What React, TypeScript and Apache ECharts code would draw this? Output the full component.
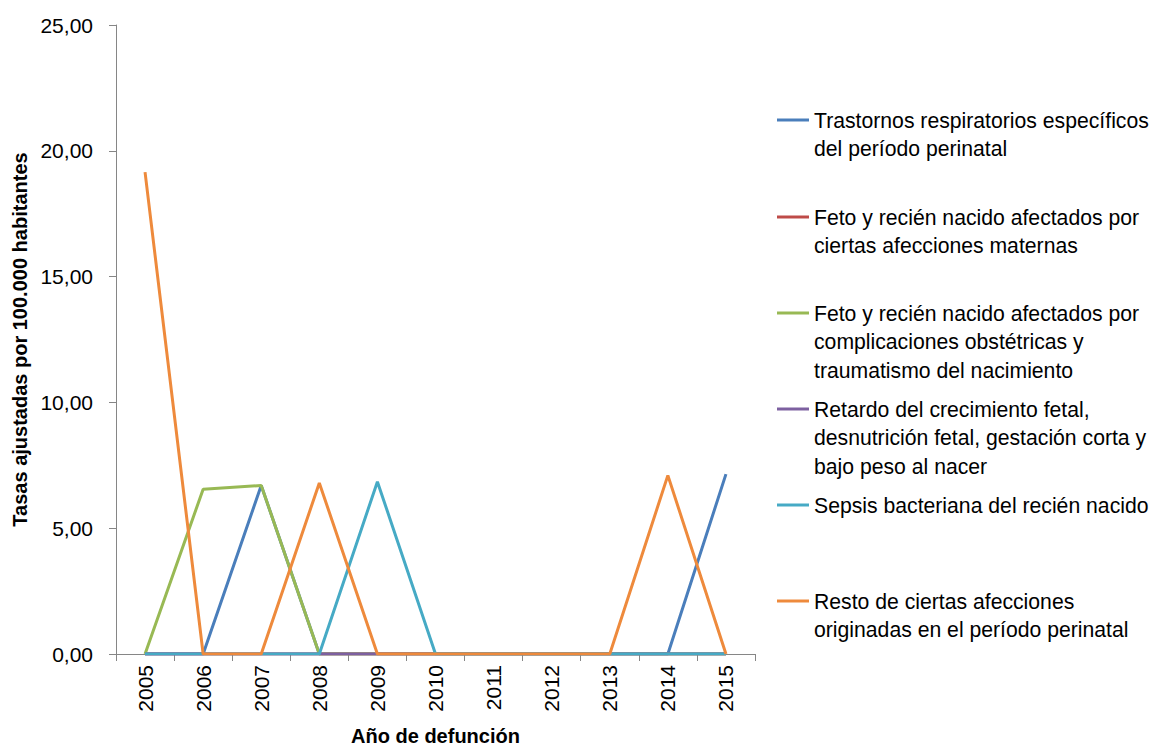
import React, { useEffect, useRef } from "react";
import * as echarts from "echarts";

const years = ["2005", "2006", "2007", "2008", "2009", "2010", "2011", "2012", "2013", "2014", "2015"];

const seriesNames = [
  "Trastornos respiratorios específicos del período perinatal",
  "Feto y recién nacido afectados por ciertas afecciones maternas",
  "Feto y recién nacido afectados por complicaciones obstétricas y traumatismo del nacimiento",
  "Retardo del crecimiento fetal, desnutrición fetal, gestación corta y bajo peso al nacer",
  "Sepsis bacteriana del recién nacido",
  "Resto de ciertas afecciones originadas en el período perinatal",
];

const legendLines = [
  ["Trastornos respiratorios específicos", "del período perinatal"],
  ["Feto y recién nacido afectados por", "ciertas afecciones maternas"],
  ["Feto y recién nacido afectados por", "complicaciones obstétricas y", "traumatismo del nacimiento"],
  ["Retardo del crecimiento fetal,", "desnutrición fetal, gestación corta y", "bajo peso al nacer"],
  ["Sepsis bacteriana del recién nacido"],
  ["Resto de ciertas afecciones", "originadas en el período perinatal"],
];

const trastornos = [0, 0, 6.7, 0, 0, 0, 0, 0, 0, 0, 7.15];
const afeccionesMaternas = [0, 0, 0, 0, 0, 0, 0, 0, 0, 0, 0];
const complicaciones = [0, 6.55, 6.7, 0, 0, 0, 0, 0, 0, 0, 0];
const retardo = [0, 0, 0, 0, 0, 0, 0, 0, 0, 0, 0];
const sepsis = [0, 0, 0, 0, 6.85, 0, 0, 0, 0, 0, 0];
const resto = [19.15, 0, 0, 6.8, 0, 0, 0, 0, 0, 7.1, 0];

const seriesData = [trastornos, afeccionesMaternas, complicaciones, retardo, sepsis, resto];
const colors = ["#4A7EBB", "#BE4B48", "#98B954", "#7D60A0", "#46AAC5", "#EE8A3C"];

const legendMarkerY = [120, 217, 313, 409, 505, 601];

const FONT = "'Liberation Sans', Arial, sans-serif";
const LH = 28.5;

export default function App() {
  const ref = useRef<HTMLDivElement>(null);
  useEffect(() => {
    if (!ref.current) return;
    const chart = echarts.init(ref.current, null, { renderer: "svg" });
    const legends = seriesNames.map((name, i) => {
      const n = legendLines[i].length;
      const blockH = (2 * n - 1) * LH;
      return {
        data: [name],
        left: 777,
        top: legendMarkerY[i] - blockH / 2,
        orient: "vertical",
        selectedMode: false,
        icon: "rect",
        itemWidth: 32,
        itemHeight: 3,
        itemGap: 0,
        padding: 0,
        formatter: () => "\n".repeat(n - 1) + legendLines[i].join("\n"),
        textStyle: { fontFamily: FONT, fontSize: 21.2, color: "#000", lineHeight: LH },
      };
    });
    chart.setOption({
      animation: false,
      color: colors,
      textStyle: { fontFamily: FONT },
      legend: legends,
      grid: { left: 116, right: 394, top: 25, bottom: 95, containLabel: false },
      xAxis: {
        type: "category",
        data: years,
        boundaryGap: true,
        name: "Año de defunción",
        nameLocation: "middle",
        nameGap: 72,
        nameTextStyle: { fontFamily: FONT, fontSize: 20, fontWeight: "bold", color: "#000" },
        axisLine: { show: true, lineStyle: { color: "#868686", width: 1 } },
        axisTick: { show: true, length: 7, lineStyle: { color: "#868686" } },
        axisLabel: { rotate: 90, interval: 0, margin: 11, fontFamily: FONT, fontSize: 21, color: "#000" },
        splitLine: { show: false },
      },
      yAxis: {
        type: "value",
        min: 0,
        max: 25,
        interval: 5,
        name: "Tasas ajustadas por 100.000 habitantes",
        nameLocation: "middle",
        nameGap: 86,
        nameTextStyle: { fontFamily: FONT, fontSize: 20, fontWeight: "bold", color: "#000" },
        axisLine: { show: true, lineStyle: { color: "#868686", width: 1 } },
        axisTick: { show: true, length: 7, lineStyle: { color: "#868686" } },
        axisLabel: {
          margin: 23,
          fontFamily: FONT,
          fontSize: 21,
          color: "#000",
          formatter: (v: number) => v.toFixed(2).replace(".", ","),
        },
        splitLine: { show: false },
      },
      series: seriesNames.map((name, i) => ({
        name,
        type: "line",
        data: seriesData[i],
        symbol: "none",
        lineStyle: { width: 3, color: colors[i] },
        itemStyle: { color: colors[i] },
      })),
    });
    return () => chart.dispose();
  }, []);
  return <div ref={ref} style={{ width: 1149, height: 751, position: "absolute", left: 0, top: 0 }} />;
}
